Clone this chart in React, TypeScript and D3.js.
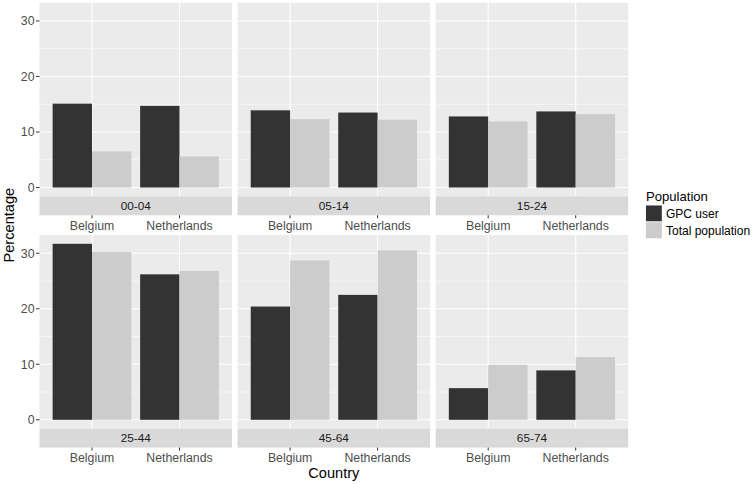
import React from "react";
import * as d3 from "d3";

const ageGroups = ["00-04", "05-14", "15-24", "25-44", "45-64", "65-74"];
const countries = ["Belgium", "Netherlands"];
const populations = ["GPC user", "Total population"];
// values[ageGroup][country]
const gpcUser = [
  [15.1, 14.7],
  [13.9, 13.5],
  [12.8, 13.7],
  [31.7, 26.2],
  [20.4, 22.5],
  [5.7, 8.9],
];
const totalPopulation = [
  [6.5, 5.6],
  [12.3, 12.2],
  [11.9, 13.2],
  [30.2, 26.8],
  [28.7, 30.5],
  [9.9, 11.3],
];
const yTicks = [0, 10, 20, 30];
const yMinor = [5, 15, 25];
const fills = ["#333333", "#cccccc"];

const W = 755;
const H = 484;
const font = "'Liberation Sans', Arial, Helvetica, sans-serif";

export default function App() {
  const panelLeft = 39.5;
  const panelW = 192.5;
  const gapX = 5.6;
  const rowTops = [2.7, 235];
  const panelH = 193.6;
  const stripH = 19;

  const allVals = [...gpcUser.flat(), ...totalPopulation.flat(), 0];
  const vmax = d3.max(allVals) as number;
  const vmin = 0;
  const span = vmax - vmin;
  const y0 = vmin - span * 0.05;
  const y1 = vmax + span * 0.05;

  // ggplot discrete expansion: positions 1..n with 0.6 add
  const xc = d3.scaleLinear().domain([0.4, countries.length + 0.6]).range([0, panelW]);
  const dodge = d3.scaleBand<string>().domain(populations).range([-0.45, 0.45]);

  const panels = ageGroups.map((g, i) => {
    const col = i % 3;
    const row = Math.floor(i / 3);
    const px = panelLeft + col * (panelW + gapX);
    const py = rowTops[row];
    const yScale = d3.scaleLinear().domain([y0, y1]).range([panelH, 0]);
    return (
      <g key={g} transform={`translate(${px},${py})`}>
        <rect x={0} y={0} width={panelW} height={panelH} fill="#ebebeb" />
        {yMinor.map((t) => (
          <line key={"m" + t} x1={0} x2={panelW} y1={yScale(t)} y2={yScale(t)} stroke="#fff" strokeWidth={0.55} />
        ))}
        {yTicks.map((t) => (
          <line key={"M" + t} x1={0} x2={panelW} y1={yScale(t)} y2={yScale(t)} stroke="#fff" strokeWidth={1.1} />
        ))}
        {countries.map((c, ci) => (
          <line key={c} x1={xc(ci + 1)} x2={xc(ci + 1)} y1={0} y2={panelH} stroke="#fff" strokeWidth={1.1} />
        ))}
        {countries.map((c, ci) =>
          populations.map((p, pi) => {
            const v = pi === 0 ? gpcUser[i][ci] : totalPopulation[i][ci];
            const xl = xc(ci + 1 + (dodge(p) as number));
            const xr = xc(ci + 1 + (dodge(p) as number) + dodge.bandwidth());
            return (
              <rect
                key={c + p}
                x={xl}
                y={yScale(v)}
                width={xr - xl}
                height={yScale(0) - yScale(v)}
                fill={fills[pi]}
              />
            );
          })
        )}
        <rect x={0} y={panelH} width={panelW} height={stripH} fill="#d9d9d9" />
        <text
          x={panelW / 2}
          y={panelH + stripH / 2 + 4.2}
          textAnchor="middle"
          fontSize={11.8}
          fill="#1a1a1a"
          fontFamily={font}
        >
          {g}
        </text>
        {countries.map((c, ci) => (
          <g key={"xt" + c}>
            <line
              x1={xc(ci + 1)}
              x2={xc(ci + 1)}
              y1={panelH + stripH}
              y2={panelH + stripH + 3}
              stroke="#333333"
              strokeWidth={1}
            />
            <text
              x={xc(ci + 1)}
              y={panelH + stripH + 14.5}
              textAnchor="middle"
              fontSize={12.3}
              fill="#4d4d4d"
              fontFamily={font}
            >
              {c}
            </text>
          </g>
        ))}
        {col === 0 &&
          yTicks.map((t) => (
            <g key={"yt" + t}>
              <line x1={-3.5} x2={0} y1={yScale(t)} y2={yScale(t)} stroke="#333333" strokeWidth={1} />
              <text
                x={-5}
                y={yScale(t) + 4.4}
                textAnchor="end"
                fontSize={12.3}
                fill="#4d4d4d"
                fontFamily={font}
              >
                {t}
              </text>
            </g>
          ))}
      </g>
    );
  });

  const plotRight = panelLeft + 3 * panelW + 2 * gapX;
  const legendX = 646;

  return (
    <div style={{ position: "absolute", left: 0, top: 0 }}>
      <svg width={W} height={H} style={{ display: "block", background: "#fff" }}>
        {panels}
        <text
          x={(panelLeft + plotRight) / 2}
          y={478}
          textAnchor="middle"
          fontSize={14.6}
          fill="#000"
          fontFamily={font}
        >
          Country
        </text>
        <text
          transform={`translate(13.5,${(rowTops[0] + rowTops[1] + panelH + stripH) / 2}) rotate(-90)`}
          textAnchor="middle"
          fontSize={14.6}
          fill="#000"
          fontFamily={font}
        >
          Percentage
        </text>
        <text x={legendX} y={200.5} fontSize={13.1} fill="#000" fontFamily={font}>
          Population
        </text>
        {populations.map((p, pi) => (
          <g key={p} transform={`translate(${legendX - 0.5},${205 + pi * 16.8})`}>
            <rect x={0} y={0} width={16.8} height={16.8} fill="#f2f2f2" />
            <rect x={0.5} y={0.5} width={15.8} height={15.8} fill={fills[pi]} />
            <text x={20.5} y={12.8} fontSize={12} fill="#000" fontFamily={font}>
              {p}
            </text>
          </g>
        ))}
      </svg>
    </div>
  );
}
